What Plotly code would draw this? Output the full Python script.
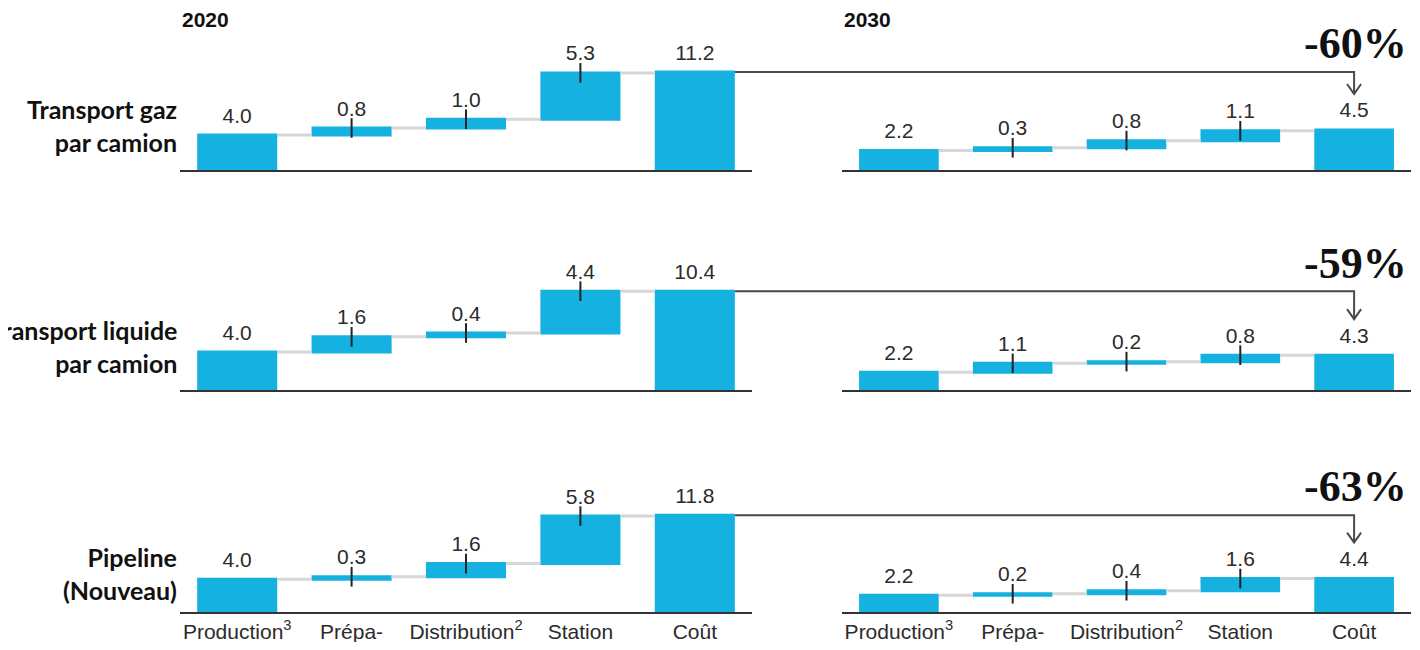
import numpy as np
import plotly.graph_objects as go

# ── Données ─────────────────────────────────────────────
etapes = ["Production<sup>3</sup>", "Prépa-", "Distribution<sup>2</sup>", "Station", "Coût"]
filieres = ["Transport gaz<br>par camion", "Transport liquide<br>par camion", "Pipeline<br>(Nouveau)"]
annees = ["2020", "2030"]

gaz_2020 = [4.0, 0.8, 1.0, 5.3, 11.2]
liquide_2020 = [4.0, 1.6, 0.4, 4.4, 10.4]
pipeline_2020 = [4.0, 0.3, 1.6, 5.8, 11.8]
gaz_2030 = [2.2, 0.3, 0.8, 1.1, 4.5]
liquide_2030 = [2.2, 1.1, 0.2, 0.8, 4.3]
pipeline_2030 = [2.2, 0.2, 0.4, 1.6, 4.4]

valeurs = [[gaz_2020, gaz_2030], [liquide_2020, liquide_2030], [pipeline_2020, pipeline_2030]]

# ── Mise en page (coordonnées page, la page a une marge de 8 px) ──
OFF = 8
FW, FH = 1420 - 2 * OFF, 650 - 2 * OFF


def fx(px):
    return (px - OFF) / FW


def fy(py):
    return 1 - (py - OFF) / FH


base_px = [170, 390, 612]
plot_h = 140
x_dom = [[fx(180), fx(752)], [fx(842), fx(1411)]]
px_unit = [[8.75, 8.9], [9.5, 8.1], [8.2, 7.6]]
label_dy = [44, 44, 39]

BLEU = "#14B1E1"
TEXTE = "#2b2b2b"
FONT = "Liberation Sans, Arial, sans-serif"

fig = go.Figure()
shapes, annotations = [], []

for r in range(3):
    for c in range(2):
        k = r * 2 + c + 1
        xa, ya = f"x{k}", f"y{k}"
        vals = valeurs[r][c]
        tops = list(np.cumsum(vals[:4])) + [vals[4]]

        fig.add_trace(go.Waterfall(
            x=etapes, y=vals,
            measure=["absolute", "relative", "relative", "relative", "absolute"],
            increasing=dict(marker=dict(color=BLEU)),
            decreasing=dict(marker=dict(color=BLEU)),
            totals=dict(marker=dict(color=BLEU)),
            connector=dict(mode="between", line=dict(color="#d6d6d6", width=3)),
            textinfo="none", hoverinfo="skip",
            xaxis=xa, yaxis=ya))

        # étiquettes de valeur
        fig.add_trace(go.Scatter(
            x=etapes, y=tops, mode="markers+text",
            marker=dict(size=10, opacity=0),
            text=[f"{v:.1f}" for v in vals], textposition="top center",
            textfont=dict(family=FONT, size=21, color=TEXTE),
            hoverinfo="skip", xaxis=xa, yaxis=ya))

        # petits traits noirs
        fig.add_trace(go.Scatter(
            x=etapes[1:4], y=tops[1:4], mode="markers",
            marker=dict(symbol="line-ns", size=14, line=dict(color="#222", width=2)),
            hoverinfo="skip", xaxis=xa, yaxis=ya))

        d0 = fy(base_px[r])
        fig.layout[f"xaxis{k}"] = dict(
            domain=x_dom[c], anchor=ya, type="category", automargin=False,
            range=[-0.5, 4.5], showline=True, linecolor="#333", linewidth=2,
            showgrid=False, zeroline=False, ticks="",
            showticklabels=(r == 2),
            tickfont=dict(family=FONT, size=21, color=TEXTE))
        fig.layout[f"yaxis{k}"] = dict(
            domain=[d0, d0 + plot_h / FH], anchor=xa, automargin=False,
            range=[0, plot_h / px_unit[r][c]], visible=False)

    # flèche 2020 -> 2030
    v20, v30 = valeurs[r][0][4], valeurs[r][1][4]
    wl = x_dom[0][1] - x_dom[0][0]
    wr = x_dom[1][1] - x_dom[1][0]
    xa0 = x_dom[0][0] + (4 + 0.35 + 0.5) / 5 * wl
    xa1 = x_dom[1][0] + (4 + 0.5) / 5 * wr
    yl = fy(base_px[r]) + v20 * px_unit[r][0] / FH
    yt = fy(base_px[r]) + (v30 * px_unit[r][1] + 36) / FH
    dx, dy = 7 / FW, 10 / FH
    shapes.append(dict(
        type="path", xref="paper", yref="paper",
        path=(f"M {xa0},{yl} L {xa1},{yl} L {xa1},{yt} "
              f"M {xa1 - dx},{yt + dy} L {xa1},{yt} L {xa1 + dx},{yt + dy}"),
        line=dict(color="#4a4a4a", width=2)))

    pct = round((v30 / v20 - 1) * 100)
    annotations.append(dict(
        x=fx(1409), y=fy(base_px[r] - 126), xref="paper", yref="paper",
        xanchor="right", yanchor="middle", showarrow=False,
        text=f"{pct}%",
        font=dict(family="Liberation Serif, Times New Roman, serif", size=44,
                  color="#111", weight="bold")))

    annotations.append(dict(
        x=fx(179), y=fy(base_px[r] - label_dy[r]), xref="paper", yref="paper",
        xanchor="right", yanchor="middle", align="right", showarrow=False,
        text=filieres[r],
        font=dict(family="Lato, Open Sans, sans-serif", size=25, color="#111",
                  weight="bold")))

for c in range(2):
    annotations.append(dict(
        x=x_dom[c][0], y=fy(20), xref="paper", yref="paper",
        xanchor="left", yanchor="middle", showarrow=False,
        text=annees[c],
        font=dict(family=FONT, size=21, color="#111", weight="bold")))

fig.update_layout(
    width=FW, height=FH,
    margin=dict(l=0, r=0, t=0, b=0, autoexpand=False),
    paper_bgcolor="white", plot_bgcolor="white",
    showlegend=False, waterfallgap=0.3,
    shapes=shapes, annotations=annotations,
)

fig.write_html("out.html")
